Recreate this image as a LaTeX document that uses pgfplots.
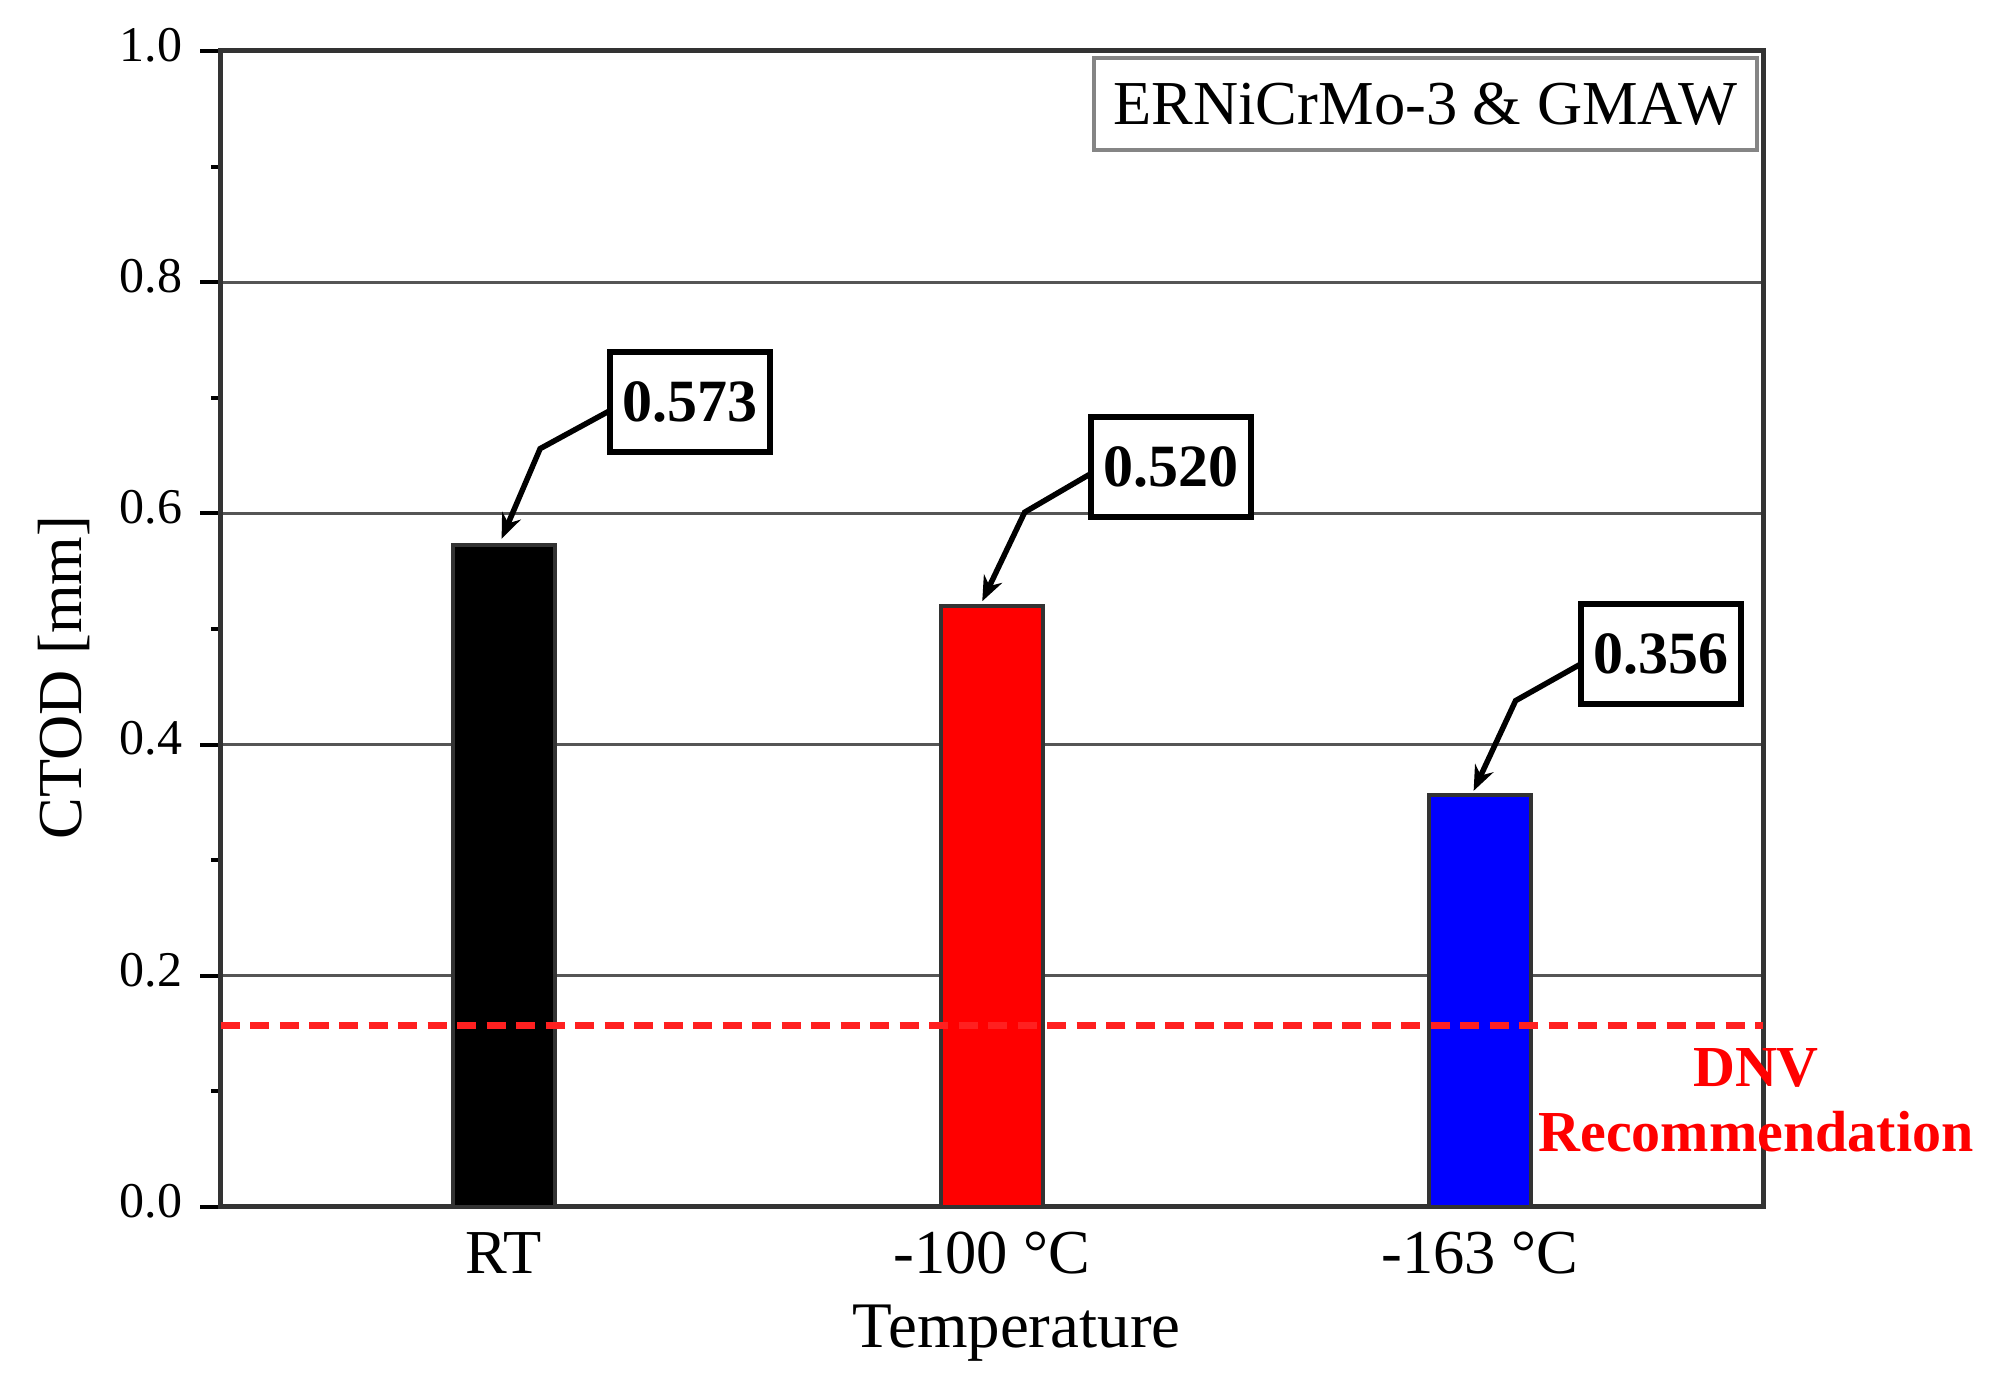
\documentclass[border=0pt]{standalone}
\usepackage{fontspec}
\setmainfont{Liberation Serif}
\usepackage{pgfplots}
\pgfplotsset{compat=1.18}
\usetikzlibrary{arrows.meta}
\definecolor{axisgray}{HTML}{333333}
\definecolor{gridgray}{HTML}{555555}
\definecolor{dnvred}{HTML}{FF2020}
\definecolor{boxgray}{HTML}{858585}
\begin{document}
\begin{tikzpicture}
\useasboundingbox (-44.2pt,-36.8pt) rectangle (355.2pt,241.4pt);
\begin{axis}[
  scale only axis, width=308.4pt, height=231.2pt,
  at={(0,0)}, anchor=south west,
  xmin=0.42, xmax=3.58, ymin=0, ymax=1,
  xtick={1,2,3}, xticklabels={RT,-100 °C,-163 °C},
  major x tick style={draw=none},
  ytick={0,0.2,0.4,0.6,0.8,1.0}, minor ytick={0.1,0.3,0.5,0.7,0.9},
  ytick pos=left, tick align=outside,
  major tick length=4.2pt, minor tick length=2pt,
  y tick style={black, line width=0.8pt},
  ymajorgrids, major grid style={gridgray, line width=0.6pt},
  axis line style={axisgray, line width=1pt},
  /pgf/number format/assume math mode=true,
  yticklabel style={font=\fontsize{10}{12}\selectfont, yshift=1.2pt,
    /pgf/number format/.cd, fixed, fixed zerofill, precision=1},
  xticklabel style={font=\fontsize{12.5}{15}\selectfont, anchor=base, yshift=-9.2pt},
  ylabel={CTOD [mm]},
  ylabel style={at={(axis description cs:-0.1018,0.458)}, anchor=center, font=\fontsize{12.5}{15}\selectfont},
  xlabel={Temperature},
  xlabel style={at={(axis description cs:0.516,0)}, anchor=base, yshift=-28.2pt, font=\fontsize{13}{15}\selectfont},
  clip=false,
]
\addplot[ybar, bar width=0.21, bar shift=0pt, fill=black, draw=axisgray, line width=0.8pt] coordinates {(1,0.573)};
\addplot[ybar, bar width=0.21, bar shift=0pt, fill=red, draw=axisgray, line width=0.8pt] coordinates {(2,0.520)};
\addplot[ybar, bar width=0.21, bar shift=0pt, fill=blue, draw=axisgray, line width=0.8pt] coordinates {(3,0.356)};
\addplot[dnvred, line width=1.4pt, dash pattern=on 3.8pt off 2.1pt] coordinates {(0.42,0.157) (3.58,0.157)};

\node[draw=boxgray, line width=0.9pt, fill=white, minimum width=132.6pt, minimum height=18.4pt, inner sep=0pt,
  font=\fontsize{12.5}{15}\selectfont] at (axis description cs:0.781,0.954) {ERNiCrMo-3 \& GMAW};

\tikzset{vbox/.style={draw=black, line width=1.2pt, fill=white, minimum width=32pt, minimum height=20pt, inner sep=0pt,
  font=\bfseries\fontsize{12}{14}\selectfont},
  varr/.style={line width=1.1pt, -{Stealth[length=5pt,width=4pt]}}}
\draw[varr] (axis cs:1.2175,0.689) -- (axis cs:1.074,0.656) -- (axis cs:0.995,0.578);
\node[vbox] at (axis cs:1.381,0.696) {0.573};
\draw[varr] (axis cs:2.205,0.635) -- (axis cs:2.067,0.601) -- (axis cs:1.980,0.524);
\node[vbox] at (axis cs:2.367,0.640) {0.520};
\draw[varr] (axis cs:3.212,0.471) -- (axis cs:3.073,0.438) -- (axis cs:2.987,0.360);
\node[vbox] at (axis cs:3.371,0.478) {0.356};

\node[text=red, font=\bfseries\fontsize{11.6}{13}\selectfont, anchor=base] at (axis description cs:0.9955,0.1038) {DNV};
\node[text=red, font=\bfseries\fontsize{11.6}{13}\selectfont, anchor=base] at (axis description cs:0.9955,0.0476) {Recommendation};
\end{axis}
\end{tikzpicture}
\end{document}
